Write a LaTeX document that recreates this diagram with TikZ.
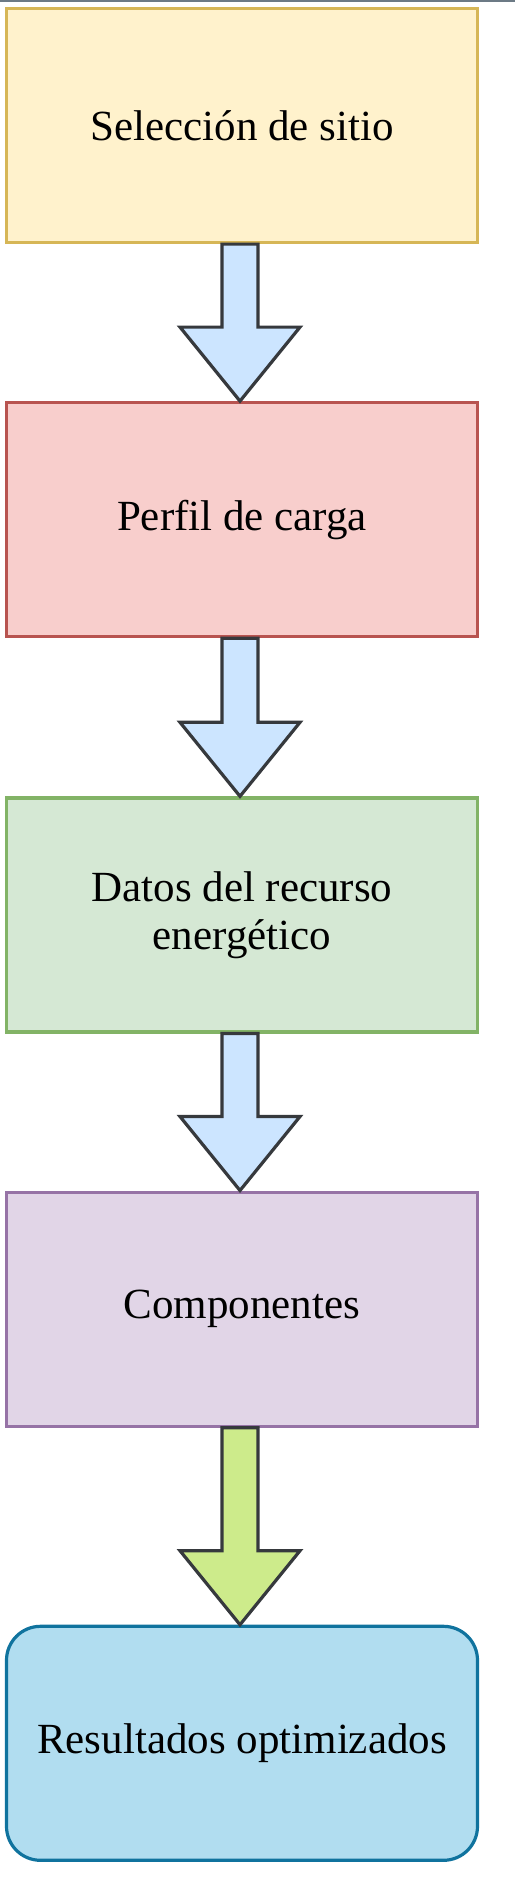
\documentclass[tikz,border=0pt]{standalone}
\usepackage{fontspec}
\setmainfont{Liberation Serif}
\usepackage{xcolor}
\usepackage{tikz}
\usetikzlibrary{positioning,calc}

\definecolor{yelfill}{HTML}{FFF2CC}\definecolor{yeldraw}{HTML}{D6B656}
\definecolor{redfill}{HTML}{F8CECC}\definecolor{reddraw}{HTML}{B85450}
\definecolor{grnfill}{HTML}{D5E8D4}\definecolor{grndraw}{HTML}{82B366}
\definecolor{purfill}{HTML}{E1D5E7}\definecolor{purdraw}{HTML}{9673A6}
\definecolor{blufill}{HTML}{B1DDF0}\definecolor{bludraw}{HTML}{10739E}
\definecolor{arrfill}{HTML}{CCE5FF}\definecolor{limefill}{HTML}{CDEB8B}
\definecolor{arrdraw}{HTML}{36393D}\definecolor{topdraw}{HTML}{6C7A85}

% block arrow from bottom of #1 to top of #2
\newcommand{\blockarrow}[3]{%
  \draw[blockarr, fill=#3]
    ($(#1.south)+(-20pt,0)$) -- ($(#2.north)+(-20pt,74pt)$) --
    ($(#2.north)+(-62pt,74pt)$) -- ($(#2.north)+(-2pt,0)$) --
    ($(#2.north)+(58pt,74pt)$) -- ($(#2.north)+(16pt,74pt)$) --
    ($(#1.south)+(16pt,0)$) -- cycle;}

\begin{document}
\begin{tikzpicture}[
  node distance=157pt,
  font=\fontsize{43}{48}\selectfont,
  every node/.style={align=center},
  stage/.style={draw, line width=3.2pt, minimum width=471pt, minimum height=234pt, inner sep=0pt},
  result/.style={stage, rounded corners=34pt},
  blockarr/.style={draw=arrdraw, line width=3.2pt},
  topline/.style={draw=topdraw, line width=2.5pt}
]
\useasboundingbox (0,0) rectangle (515pt,-1882pt);
\coordinate (tl) at (0,-1pt);
\coordinate (tr) at (515pt,-1pt);
\draw[topline] (tl) -- (tr);

\node[stage, fill=yelfill, draw=yeldraw] (sitio) at (242pt,-125.5pt) {Selección de sitio};
\node[stage, fill=redfill, draw=reddraw, below=of sitio] (carga) {Perfil de carga};
\node[stage, fill=grnfill, draw=grndraw, below=158pt of carga] (recurso) {Datos del recurso\\energético};
\node[stage, fill=purfill, draw=purdraw, below=of recurso] (comp) {Componentes};
\node[result, fill=blufill, draw=bludraw, below=197pt of comp] (result) {Resultados optimizados};

\blockarrow{sitio}{carga}{arrfill}
\blockarrow{carga}{recurso}{arrfill}
\blockarrow{recurso}{comp}{arrfill}
\blockarrow{comp}{result}{limefill}
\end{tikzpicture}
\end{document}
